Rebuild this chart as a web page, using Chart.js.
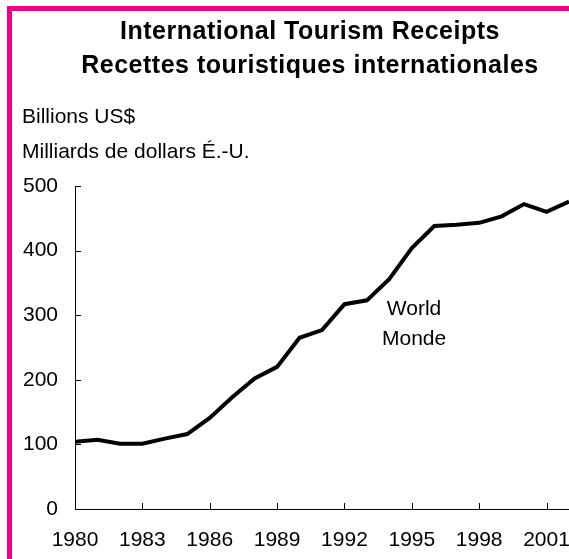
<!DOCTYPE html>
<html>
<head>
<meta charset="utf-8">
<script src="https://cdn.jsdelivr.net/npm/chart.js@4.4.0/dist/chart.umd.min.js"></script>
<style>
    html, body { margin: 0; padding: 0; background: #fff; }
    #wrap { width: 569px; height: 559px; position: relative; }
</style>
</head>
<body>
<div id="wrap"><canvas id="chart"></canvas></div>
<script>
// values (billions US$)
const years    = [1980, 1981, 1982, 1983, 1984, 1985, 1986, 1987, 1988, 1989, 1990, 1991,
                  1992, 1993, 1994, 1995, 1996, 1997, 1998, 1999, 2000, 2001, 2002];
const receipts = [104, 107, 101, 101, 109, 116, 141, 173, 202, 220, 265, 277,
                  317, 323, 356, 404, 438, 440, 443, 453, 472, 460, 476];
const xTicks   = [1980, 1983, 1986, 1989, 1992, 1995, 1998, 2001];
const yTicks   = [0, 100, 200, 300, 400, 500];

const titleLines = ['International Tourism Receipts', 'Recettes touristiques internationales'];
const unitLines  = ['Billions US$', 'Milliards de dollars É.-U.'];
const seriesName = ['World', 'Monde'];
const nameAt     = { x: 1995.1, y: [310, 263] };

const FONT = "'Liberation Sans', Arial, sans-serif";
const PINK = '#ec008c';

const decor = {
    id: 'decor',
    afterDraw(chart) {
        const { ctx, scales: { x, y }, chartArea: area } = chart;
        ctx.save();

        // frame
        ctx.fillStyle = PINK;
        ctx.fillRect(7, 6, chart.width - 7, 5);
        ctx.fillRect(7, 6, 5, chart.height - 6);

        // tick marks pointing inwards
        ctx.strokeStyle = '#000';
        ctx.lineWidth = 1;
        ctx.beginPath();
        xTicks.forEach(v => {
            const px = Math.round(x.getPixelForValue(v)) + 0.5;
            ctx.moveTo(px, area.bottom);
            ctx.lineTo(px, area.bottom - 6);
        });
        yTicks.forEach(v => {
            const py = Math.round(y.getPixelForValue(v)) + 0.5;
            ctx.moveTo(area.left, py);
            ctx.lineTo(area.left + 6, py);
        });
        ctx.stroke();

        ctx.fillStyle = '#000';
        ctx.textBaseline = 'middle';

        // title
        ctx.font = 'bold 25px ' + FONT;
        ctx.letterSpacing = '0.5px';
        ctx.textAlign = 'center';
        ctx.fillText(titleLines[0], 310, 32);
        ctx.fillText(titleLines[1], 310, 66);

        // unit
        ctx.font = '21px ' + FONT;
        ctx.letterSpacing = '0px';
        ctx.textAlign = 'left';
        ctx.fillText(unitLines[0], 22, 117);
        ctx.fillText(unitLines[1], 22, 152);

        // series name
        ctx.textAlign = 'center';
        seriesName.forEach((s, i) => {
            ctx.fillText(s, x.getPixelForValue(nameAt.x), y.getPixelForValue(nameAt.y[i]));
        });

        ctx.restore();
    }
};

new Chart(document.getElementById('chart'), {
    type: 'line',
    data: {
        datasets: [{
            label: 'World',
            data: years.map((yr, i) => ({ x: yr, y: receipts[i] })),
            borderColor: '#000',
            borderWidth: 4,
            pointRadius: 0,
            tension: 0,
            fill: false
        }]
    },
    options: {
        responsive: true,
        maintainAspectRatio: false,
        animation: false,
        layout: { padding: { top: 186, left: 0, right: 0, bottom: 0 } },
        plugins: { legend: { display: false }, tooltip: { enabled: false } },
        scales: {
            x: {
                type: 'linear',
                min: 1980,
                max: 2002,
                grid: { display: true, drawOnChartArea: false, drawTicks: false },
                border: { color: '#000', width: 1 },
                ticks: {
                    stepSize: 3,
                    includeBounds: false,
                    padding: 19,
                    color: '#000',
                    font: { family: FONT, size: 21 },
                    callback: v => String(v)
                },
                afterFit: s => { s.height = 50; s.paddingLeft = 0; s.paddingRight = 0; }
            },
            y: {
                min: 0,
                max: 500,
                grid: { display: true, drawOnChartArea: false, drawTicks: false },
                border: { color: '#000', width: 1 },
                ticks: {
                    stepSize: 100,
                    padding: 17,
                    color: '#000',
                    font: { family: FONT, size: 21 }
                },
                afterFit: s => { s.width = 75; }
            }
        }
    },
    plugins: [decor]
});
</script>
</body>
</html>
